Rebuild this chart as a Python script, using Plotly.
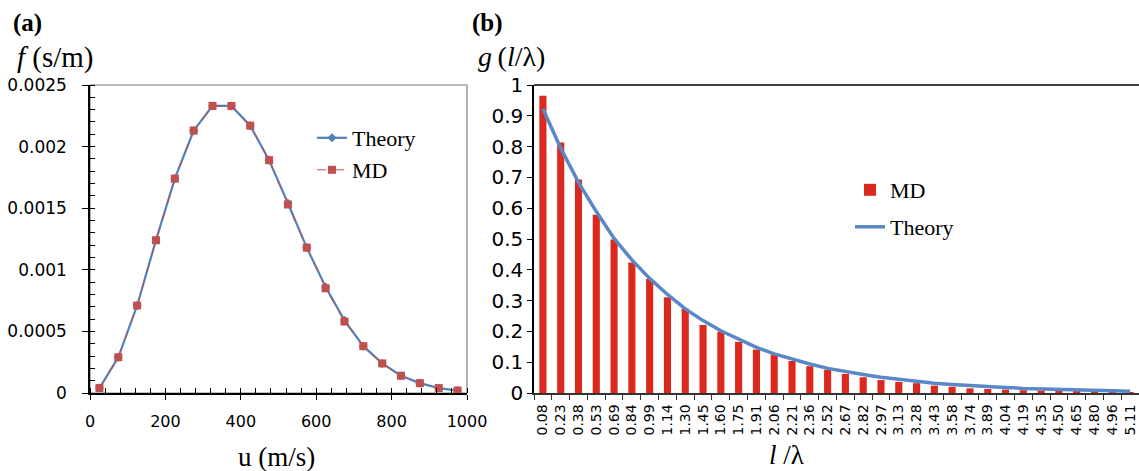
import plotly.graph_objects as go

# ---------------- data: panel (a) ----------------
u_speed = [25, 75, 125, 175, 225, 275, 325, 375, 425, 475,
           525, 575, 625, 675, 725, 775, 825, 875, 925, 975]
f_theory = [0.00004, 0.00029, 0.00071, 0.00124, 0.00174, 0.00213, 0.00233, 0.00233, 0.00217, 0.00189,
            0.00154, 0.00118, 0.00086, 0.00059, 0.00038, 0.00024, 0.00014, 0.00008, 0.00004, 0.00002]
f_md = [0.00004, 0.00029, 0.00071, 0.00124, 0.00174, 0.00213, 0.00233, 0.00233, 0.00217, 0.00189,
        0.00153, 0.00118, 0.00085, 0.00058, 0.00038, 0.00024, 0.00014, 0.00008, 0.00004, 0.00002]
f_tickvals = [0, 0.0005, 0.001, 0.0015, 0.002, 0.0025]
f_ticktext = ["0", "0.0005", "0.001", "0.0015", "0.002", "0.0025"]
u_tickvals = [0, 200, 400, 600, 800, 1000]

# ---------------- data: panel (b) ----------------
l_lambda = ["0.08", "0.23", "0.38", "0.53", "0.69", "0.84", "0.99", "1.14", "1.30", "1.45",
            "1.60", "1.75", "1.91", "2.06", "2.21", "2.36", "2.52", "2.67", "2.82", "2.97",
            "3.13", "3.28", "3.43", "3.58", "3.74", "3.89", "4.04", "4.19", "4.35", "4.50",
            "4.65", "4.80", "4.96", "5.11"]
g_md = [0.965, 0.813, 0.693, 0.579, 0.498, 0.424, 0.370, 0.311, 0.274, 0.221,
        0.199, 0.166, 0.141, 0.125, 0.104, 0.087, 0.075, 0.062, 0.051, 0.042,
        0.036, 0.032, 0.024, 0.020, 0.015, 0.013, 0.011, 0.009, 0.008, 0.005,
        0.004, 0.003, 0.002, 0.002]
g_theory = [0.923, 0.795, 0.684, 0.589, 0.502, 0.432, 0.372, 0.320, 0.273, 0.235,
            0.202, 0.174, 0.148, 0.127, 0.110, 0.094, 0.080, 0.069, 0.060, 0.051,
            0.044, 0.038, 0.032, 0.028, 0.024, 0.020, 0.018, 0.015, 0.013, 0.011,
            0.010, 0.008, 0.007, 0.006]

W, H = 1139, 471


def px(x):
    return x / W


def py(y):
    return 1 - y / H


XA = [px(90), px(467)]
XB = [px(534), 1.0]
YD = [py(393), py(85)]

TICKFONT = dict(family="DejaVu Sans", color="#000000")
SERIF = "Liberation Serif"

fig = go.Figure()

fig.add_trace(go.Scatter(
    x=u_speed, y=f_theory, mode="lines+markers", name="Theory",
    line=dict(color="#4F81BD", width=2.2),
    marker=dict(symbol="diamond", size=7, color="#4F81BD"),
    xaxis="x", yaxis="y", legend="legend"))
fig.add_trace(go.Scatter(
    x=u_speed, y=f_md, mode="lines+markers", name="MD",
    line=dict(color="#C0504D", width=1, dash="dash"),
    marker=dict(symbol="square", size=8, color="#C0504D"),
    xaxis="x", yaxis="y", legend="legend3"))

fig.add_trace(go.Bar(
    x=l_lambda, y=g_md, name="MD", marker=dict(color="#DC291E", line=dict(width=0)),
    xaxis="x2", yaxis="y2", legend="legend2"))
fig.add_trace(go.Scatter(
    x=l_lambda, y=g_theory, mode="lines", name="Theory",
    line=dict(color="#5A87C6", width=3.5),
    xaxis="x2", yaxis="y2", legend="legend4"))

legfont = dict(family=SERIF, size=22, color="#000000")


def leg(x, y):
    return dict(x=px(x), y=py(y), xanchor="left", yanchor="middle", font=legfont,
                bgcolor="rgba(0,0,0,0)", borderwidth=0)


fig.update_layout(
    width=W, height=H, autosize=False, showlegend=True,
    margin=dict(l=0, r=0, t=0, b=0),
    paper_bgcolor="white", plot_bgcolor="white",
    bargap=0.6,
    xaxis=dict(domain=XA, anchor="y", range=[0, 1000], tickvals=u_tickvals,
               showline=True, linecolor="#000000", linewidth=1.5,
               ticks="outside", ticklen=5, tickcolor="#000000", ticklabelstandoff=8,
               minor=dict(ticks="inside", dtick=40, ticklen=5, tickcolor="#000000"),
               showgrid=False, zeroline=False, automargin=False, tickfont=dict(**TICKFONT, size=16)),
    yaxis=dict(domain=YD, anchor="x", range=[0, 0.0025], tickvals=f_tickvals, ticktext=f_ticktext,
               showline=True, linecolor="#000000", linewidth=1.5,
               ticks="outside", ticklen=6, tickcolor="#000000", ticklabelstandoff=12,
               minor=dict(ticks="inside", dtick=0.0001, ticklen=5, tickcolor="#000000"),
               showgrid=False, zeroline=False, automargin=False, tickfont=dict(**TICKFONT, size=17)),
    xaxis3=dict(overlaying="x", anchor="y", range=[0, 1000], tickvals=u_tickvals,
                ticks="inside", ticklen=5, tickcolor="#000000", showticklabels=False,
                showline=False, showgrid=False, zeroline=False, automargin=False),
    yaxis3=dict(overlaying="y", anchor="x", range=[0, 0.0025], tickvals=f_tickvals,
                ticks="inside", ticklen=5, tickcolor="#000000", showticklabels=False,
                showline=False, showgrid=False, zeroline=False, automargin=False),
    xaxis2=dict(domain=XB, anchor="y2", type="category", range=[-0.5, 33.5],
                showline=True, linecolor="#333333", linewidth=1.5,
                ticks="outside", ticklen=5, tickcolor="#333333", tickson="boundaries",
                ticklabelstandoff=4,
                tickangle=-90, showgrid=False, zeroline=False, automargin=False,
                tickfont=dict(**TICKFONT, size=14)),
    yaxis2=dict(domain=YD, anchor="x2", range=[0, 1], dtick=0.1,
                showline=True, linecolor="#000000", linewidth=1.5,
                ticks="outside", ticklen=5, tickcolor="#000000",
                showgrid=False, zeroline=False, automargin=False, tickfont=dict(**TICKFONT, size=20)),
    legend=leg(312, 138),
    legend3=leg(312, 170),
    legend2=leg(850, 190),
    legend4=leg(850, 227),
    shapes=[
        dict(type="rect", xref="paper", yref="paper", x0=XA[0], x1=XA[1], y0=YD[0], y1=YD[1],
             line=dict(color="#7F7F7F", width=1.2), layer="below"),
        dict(type="line", xref="paper", yref="paper", x0=XB[0], x1=1.0, y0=YD[1], y1=YD[1],
             line=dict(color="#000000", width=1.5)),
    ],
    annotations=[
        dict(text="<b>(a)</b>", x=px(11), y=py(23), xref="paper", yref="paper",
             xanchor="left", yanchor="middle", showarrow=False, font=dict(family=SERIF, size=25, color="#000")),
        dict(text="<b>(b)</b>", x=px(470), y=py(23), xref="paper", yref="paper",
             xanchor="left", yanchor="middle", showarrow=False, font=dict(family=SERIF, size=25, color="#000")),
        dict(text="<i>f</i> (s/m)", x=px(15), y=py(58), xref="paper", yref="paper",
             xanchor="left", yanchor="middle", showarrow=False, font=dict(family=SERIF, size=29, color="#000")),
        dict(text="<i>g</i>\u2009(<i>l</i>/λ)", x=px(476), y=py(57), xref="paper", yref="paper",
             xanchor="left", yanchor="middle", showarrow=False, font=dict(family=SERIF, size=28, color="#000")),
        dict(text="u (m/s)", x=px(276), y=py(457), xref="paper", yref="paper",
             xanchor="center", yanchor="middle", showarrow=False, font=dict(family=SERIF, size=27, color="#000")),
        dict(text="<i>l</i> /λ", x=px(786), y=py(455), xref="paper", yref="paper",
             xanchor="center", yanchor="middle", showarrow=False, font=dict(family=SERIF, size=27, color="#000")),
    ],
)

fig.write_html("out.html", config={"displayModeBar": False},
               post_script="document.body.style.margin='0px';document.body.style.overflow='hidden';")
